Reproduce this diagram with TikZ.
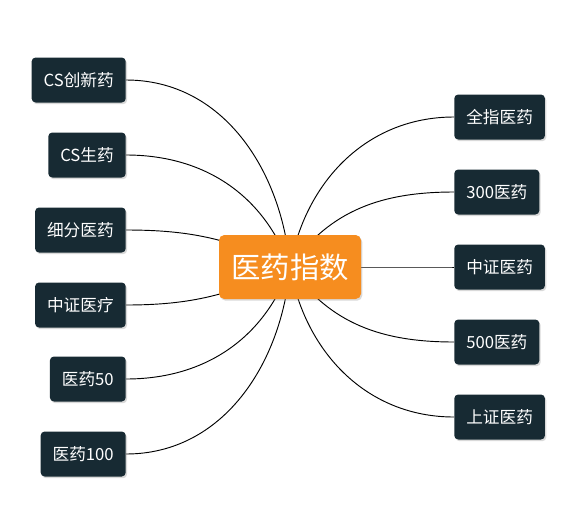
\documentclass[tikz,border=0pt]{standalone}
\usepackage{fontspec}
\setmainfont{Noto Sans CJK SC}
\usetikzlibrary{shadows,backgrounds}
\definecolor{slate}{HTML}{172A33}
\definecolor{amber}{HTML}{F68D1F}
\tikzset{leaf/.style={fill=slate,text=white,rounded corners=3pt,minimum height=33.75pt,inner xsep=9pt,font=\fontsize{12.5}{14}\selectfont,drop shadow={opacity=.3,shadow xshift=1pt,shadow yshift=-1.3pt}},hub/.style={fill=amber,text=white,rounded corners=4pt,minimum width=106.5pt,minimum height=48pt,font=\fontsize{22}{26}\selectfont,drop shadow={opacity=.3,shadow xshift=1pt,shadow yshift=-1.3pt}},link/.style={draw=black,line width=.7pt}}

\begin{document}
\begin{tikzpicture}[x=.75pt,y=.75pt]
\useasboundingbox (0,0) rectangle (567,-518);
% Central topic.
\node[hub] (root) at (290,-267) {医药指数};
% Left branch, right edges aligned.
\foreach \n/\y/\lab/\ang in {a/80/CS创新药/95,b/155/CS生药/110,c/230/细分医药/155,d/305/中证医疗/-155,e/379/医药50/-110,f/454/医药100/-95}{
  \node[leaf,anchor=east] (\n) at (126,-\y) {\lab};
  \begin{scope}[on background layer]
    \draw[link] (\n.east) to[out=0,in=\ang] (root.center);
  \end{scope}
}
% Right branch, left edges aligned.
\foreach \n/\y/\lab/\ang in {g/117/全指医药/80,h/192/300医药/55,i/267/中证医药/0,j/342/500医药/-55,k/417/上证医药/-80}{
  \node[leaf,anchor=west] (\n) at (454,-\y) {\lab};
  \begin{scope}[on background layer]
    \draw[link] (\n.west) to[out=180,in=\ang] (root.center);
  \end{scope}
}
\end{tikzpicture}
\end{document}
